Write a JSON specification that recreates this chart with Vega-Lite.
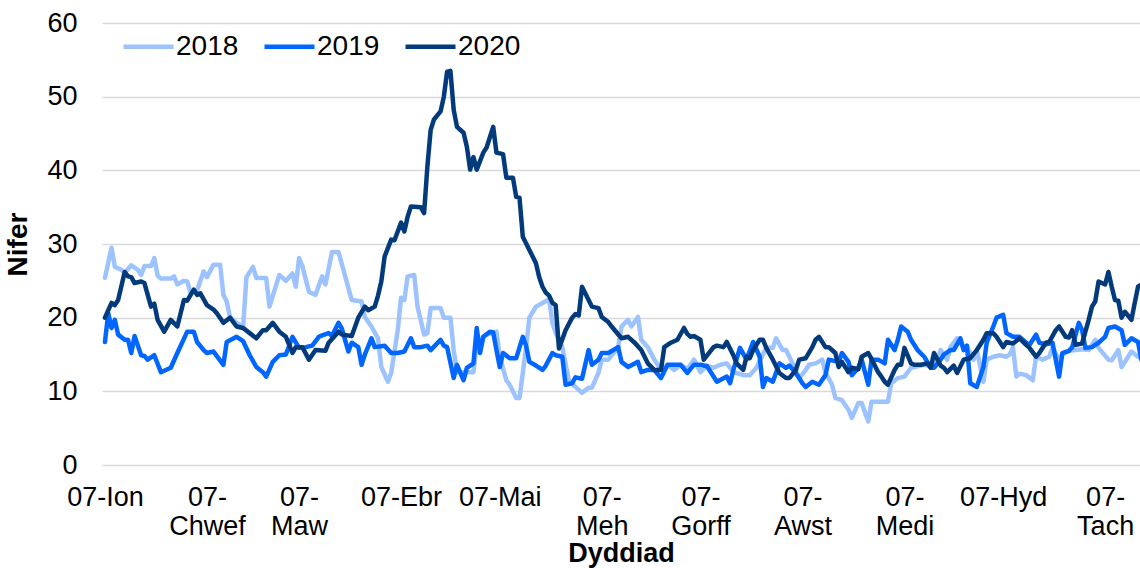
{
"$schema": "https://vega.github.io/schema/vega-lite/v6.json",
"width": 1038, "height": 442,
"autosize": {"type": "none"},
"padding": {"left": 102, "top": 23, "right": 0, "bottom": 103},
"background": "white",
"config": {"font": "Liberation Sans", "view": {"stroke": null}},
"data": {"values": [
{"year":"2018","day":7,"nifer":25.4},{"year":"2018","day":9,"nifer":29.5},{"year":"2018","day":10,"nifer":26.9},{"year":"2018","day":12,"nifer":26.5},{"year":"2018","day":13,"nifer":26.1},{"year":"2018","day":15,"nifer":27.1},{"year":"2018","day":17,"nifer":26.5},{"year":"2018","day":18,"nifer":25.8},{"year":"2018","day":19,"nifer":27},{"year":"2018","day":21,"nifer":27},{"year":"2018","day":22,"nifer":28.1},{"year":"2018","day":23,"nifer":25.7},{"year":"2018","day":24,"nifer":25.3},{"year":"2018","day":27,"nifer":25.3},{"year":"2018","day":28,"nifer":25.6},{"year":"2018","day":29,"nifer":24.5},{"year":"2018","day":31,"nifer":25},{"year":"2018","day":32,"nifer":24.9},{"year":"2018","day":33,"nifer":23.4},{"year":"2018","day":35,"nifer":23.7},{"year":"2018","day":37,"nifer":26.3},{"year":"2018","day":38,"nifer":25.5},{"year":"2018","day":40,"nifer":27.2},{"year":"2018","day":42,"nifer":27.2},{"year":"2018","day":43,"nifer":23.1},{"year":"2018","day":44,"nifer":22.2},{"year":"2018","day":45,"nifer":20.1},{"year":"2018","day":47,"nifer":19.3},{"year":"2018","day":49,"nifer":18.8},{"year":"2018","day":50,"nifer":25.5},{"year":"2018","day":52,"nifer":26.9},{"year":"2018","day":53,"nifer":25.4},{"year":"2018","day":56,"nifer":25.4},{"year":"2018","day":57,"nifer":21.5},{"year":"2018","day":60,"nifer":25.8},{"year":"2018","day":62,"nifer":25},{"year":"2018","day":64,"nifer":26},{"year":"2018","day":65,"nifer":24.2},{"year":"2018","day":66,"nifer":28.1},{"year":"2018","day":67,"nifer":27},{"year":"2018","day":69,"nifer":23.5},{"year":"2018","day":71,"nifer":23.1},{"year":"2018","day":73,"nifer":25.6},{"year":"2018","day":74,"nifer":24.5},{"year":"2018","day":76,"nifer":28.9},{"year":"2018","day":78,"nifer":28.9},{"year":"2018","day":81,"nifer":24},{"year":"2018","day":82,"nifer":22.4},{"year":"2018","day":85,"nifer":22.2},{"year":"2018","day":86,"nifer":20.1},{"year":"2018","day":88,"nifer":18.8},{"year":"2018","day":90,"nifer":17.2},{"year":"2018","day":91,"nifer":13.3},{"year":"2018","day":93,"nifer":11.3},{"year":"2018","day":94,"nifer":12.5},{"year":"2018","day":96,"nifer":18.3},{"year":"2018","day":97,"nifer":22.7},{"year":"2018","day":98,"nifer":22.4},{"year":"2018","day":99,"nifer":25.6},{"year":"2018","day":101,"nifer":25.8},{"year":"2018","day":102,"nifer":21.5},{"year":"2018","day":104,"nifer":17.7},{"year":"2018","day":105,"nifer":17.9},{"year":"2018","day":106,"nifer":21.3},{"year":"2018","day":109,"nifer":21.3},{"year":"2018","day":110,"nifer":20},{"year":"2018","day":112,"nifer":20},{"year":"2018","day":113,"nifer":15.6},{"year":"2018","day":114,"nifer":12.6},{"year":"2018","day":117,"nifer":12.6},{"year":"2018","day":119,"nifer":12.6},{"year":"2018","day":120,"nifer":16.6},{"year":"2018","day":123,"nifer":17.7},{"year":"2018","day":126,"nifer":18.1},{"year":"2018","day":127,"nifer":14.7},{"year":"2018","day":129,"nifer":11.5},{"year":"2018","day":130,"nifer":10.9},{"year":"2018","day":132,"nifer":9.1},{"year":"2018","day":133,"nifer":9.1},{"year":"2018","day":134,"nifer":12.5},{"year":"2018","day":135,"nifer":16},{"year":"2018","day":136,"nifer":20},{"year":"2018","day":138,"nifer":21.5},{"year":"2018","day":140,"nifer":22},{"year":"2018","day":142,"nifer":22.5},{"year":"2018","day":143,"nifer":19.3},{"year":"2018","day":144,"nifer":17.9},{"year":"2018","day":146,"nifer":16},{"year":"2018","day":148,"nifer":11.5},{"year":"2018","day":150,"nifer":10.6},{"year":"2018","day":152,"nifer":9.8},{"year":"2018","day":154,"nifer":10.5},{"year":"2018","day":155,"nifer":10.5},{"year":"2018","day":157,"nifer":12.5},{"year":"2018","day":158,"nifer":14.3},{"year":"2018","day":160,"nifer":14.3},{"year":"2018","day":163,"nifer":16},{"year":"2018","day":164,"nifer":18.8},{"year":"2018","day":166,"nifer":19.7},{"year":"2018","day":167,"nifer":18.8},{"year":"2018","day":169,"nifer":20.1},{"year":"2018","day":170,"nifer":17},{"year":"2018","day":172,"nifer":16},{"year":"2018","day":174,"nifer":14.3},{"year":"2018","day":176,"nifer":12.9},{"year":"2018","day":178,"nifer":13.6},{"year":"2018","day":180,"nifer":12.9},{"year":"2018","day":182,"nifer":13.6},{"year":"2018","day":184,"nifer":13},{"year":"2018","day":186,"nifer":14.3},{"year":"2018","day":188,"nifer":12.6},{"year":"2018","day":190,"nifer":13.5},{"year":"2018","day":192,"nifer":13.2},{"year":"2018","day":194,"nifer":13.6},{"year":"2018","day":196,"nifer":13.8},{"year":"2018","day":198,"nifer":12.6},{"year":"2018","day":201,"nifer":12.2},{"year":"2018","day":203,"nifer":12.2},{"year":"2018","day":205,"nifer":13.2},{"year":"2018","day":208,"nifer":15.9},{"year":"2018","day":210,"nifer":15.9},{"year":"2018","day":211,"nifer":17.2},{"year":"2018","day":213,"nifer":15.6},{"year":"2018","day":214,"nifer":15.6},{"year":"2018","day":216,"nifer":13.8},{"year":"2018","day":218,"nifer":11.8},{"year":"2018","day":220,"nifer":12.9},{"year":"2018","day":221,"nifer":13.6},{"year":"2018","day":223,"nifer":13.8},{"year":"2018","day":225,"nifer":14.3},{"year":"2018","day":226,"nifer":12.6},{"year":"2018","day":228,"nifer":10.9},{"year":"2018","day":229,"nifer":9.1},{"year":"2018","day":231,"nifer":8.8},{"year":"2018","day":233,"nifer":7.5},{"year":"2018","day":234,"nifer":6.4},{"year":"2018","day":236,"nifer":8.4},{"year":"2018","day":237,"nifer":8.4},{"year":"2018","day":239,"nifer":5.9},{"year":"2018","day":240,"nifer":8.6},{"year":"2018","day":243,"nifer":8.6},{"year":"2018","day":245,"nifer":8.6},{"year":"2018","day":246,"nifer":11.1},{"year":"2018","day":248,"nifer":11.8},{"year":"2018","day":250,"nifer":12},{"year":"2018","day":252,"nifer":13.2},{"year":"2018","day":254,"nifer":13.4},{"year":"2018","day":256,"nifer":13.6},{"year":"2018","day":258,"nifer":13.4},{"year":"2018","day":260,"nifer":14.3},{"year":"2018","day":261,"nifer":15.6},{"year":"2018","day":263,"nifer":14.3},{"year":"2018","day":264,"nifer":16},{"year":"2018","day":266,"nifer":17.2},{"year":"2018","day":268,"nifer":16},{"year":"2018","day":269,"nifer":16},{"year":"2018","day":271,"nifer":14.3},{"year":"2018","day":272,"nifer":15.6},{"year":"2018","day":274,"nifer":11.3},{"year":"2018","day":275,"nifer":14.3},{"year":"2018","day":277,"nifer":14.7},{"year":"2018","day":279,"nifer":14.9},{"year":"2018","day":281,"nifer":14.7},{"year":"2018","day":282,"nifer":15},{"year":"2018","day":283,"nifer":16},{"year":"2018","day":284,"nifer":12},{"year":"2018","day":285,"nifer":12.4},{"year":"2018","day":287,"nifer":12.2},{"year":"2018","day":289,"nifer":11.5},{"year":"2018","day":290,"nifer":14.7},{"year":"2018","day":292,"nifer":14.3},{"year":"2018","day":294,"nifer":14.7},{"year":"2018","day":295,"nifer":15.9},{"year":"2018","day":297,"nifer":14.3},{"year":"2018","day":298,"nifer":15},{"year":"2018","day":300,"nifer":15.5},{"year":"2018","day":302,"nifer":15.6},{"year":"2018","day":304,"nifer":15.7},{"year":"2018","day":306,"nifer":15.6},{"year":"2018","day":308,"nifer":17},{"year":"2018","day":309,"nifer":15.9},{"year":"2018","day":312,"nifer":14.3},{"year":"2018","day":313,"nifer":14.2},{"year":"2018","day":315,"nifer":15.6},{"year":"2018","day":316,"nifer":13.3},{"year":"2018","day":319,"nifer":15.4},{"year":"2018","day":321,"nifer":14.7},{"year":"2018","day":322,"nifer":14.5},
{"year":"2019","day":7,"nifer":16.7},{"year":"2019","day":8,"nifer":20.6},{"year":"2019","day":9,"nifer":18.6},{"year":"2019","day":10,"nifer":19.7},{"year":"2019","day":11,"nifer":17.7},{"year":"2019","day":13,"nifer":17},{"year":"2019","day":14,"nifer":17},{"year":"2019","day":15,"nifer":15.2},{"year":"2019","day":16,"nifer":17.5},{"year":"2019","day":18,"nifer":14.9},{"year":"2019","day":19,"nifer":14.8},{"year":"2019","day":20,"nifer":14.3},{"year":"2019","day":22,"nifer":14.9},{"year":"2019","day":24,"nifer":12.6},{"year":"2019","day":27,"nifer":13.2},{"year":"2019","day":29,"nifer":15.2},{"year":"2019","day":32,"nifer":18.1},{"year":"2019","day":34,"nifer":18.1},{"year":"2019","day":35,"nifer":16.7},{"year":"2019","day":37,"nifer":15.6},{"year":"2019","day":38,"nifer":15.2},{"year":"2019","day":40,"nifer":15.4},{"year":"2019","day":43,"nifer":13.6},{"year":"2019","day":44,"nifer":16.7},{"year":"2019","day":47,"nifer":17.4},{"year":"2019","day":49,"nifer":16.8},{"year":"2019","day":51,"nifer":14.9},{"year":"2019","day":53,"nifer":13.3},{"year":"2019","day":55,"nifer":12.6},{"year":"2019","day":56,"nifer":12},{"year":"2019","day":58,"nifer":14},{"year":"2019","day":60,"nifer":14.9},{"year":"2019","day":62,"nifer":15},{"year":"2019","day":64,"nifer":17.4},{"year":"2019","day":66,"nifer":15.9},{"year":"2019","day":68,"nifer":16},{"year":"2019","day":70,"nifer":16.2},{"year":"2019","day":72,"nifer":17.4},{"year":"2019","day":73,"nifer":17.6},{"year":"2019","day":75,"nifer":17.9},{"year":"2019","day":76,"nifer":17.5},{"year":"2019","day":78,"nifer":19.3},{"year":"2019","day":79,"nifer":18.5},{"year":"2019","day":81,"nifer":15.4},{"year":"2019","day":82,"nifer":16.6},{"year":"2019","day":84,"nifer":16},{"year":"2019","day":85,"nifer":13.6},{"year":"2019","day":86,"nifer":15},{"year":"2019","day":88,"nifer":17.2},{"year":"2019","day":89,"nifer":16},{"year":"2019","day":92,"nifer":16.2},{"year":"2019","day":94,"nifer":15.2},{"year":"2019","day":96,"nifer":15.2},{"year":"2019","day":98,"nifer":15.4},{"year":"2019","day":100,"nifer":17.2},{"year":"2019","day":101,"nifer":16},{"year":"2019","day":103,"nifer":16},{"year":"2019","day":105,"nifer":16.2},{"year":"2019","day":106,"nifer":15.6},{"year":"2019","day":109,"nifer":17},{"year":"2019","day":110,"nifer":16.2},{"year":"2019","day":111,"nifer":16},{"year":"2019","day":113,"nifer":11.8},{"year":"2019","day":114,"nifer":13.6},{"year":"2019","day":116,"nifer":11.5},{"year":"2019","day":117,"nifer":13.2},{"year":"2019","day":119,"nifer":13.8},{"year":"2019","day":120,"nifer":18.6},{"year":"2019","day":121,"nifer":15.2},{"year":"2019","day":122,"nifer":17.4},{"year":"2019","day":124,"nifer":18.1},{"year":"2019","day":125,"nifer":18},{"year":"2019","day":126,"nifer":15.6},{"year":"2019","day":127,"nifer":13.3},{"year":"2019","day":128,"nifer":15.2},{"year":"2019","day":130,"nifer":14.5},{"year":"2019","day":132,"nifer":14.5},{"year":"2019","day":134,"nifer":17.4},{"year":"2019","day":135,"nifer":16.2},{"year":"2019","day":136,"nifer":14},{"year":"2019","day":138,"nifer":13.5},{"year":"2019","day":140,"nifer":12.9},{"year":"2019","day":141,"nifer":13.5},{"year":"2019","day":143,"nifer":15.2},{"year":"2019","day":144,"nifer":14.9},{"year":"2019","day":146,"nifer":14.7},{"year":"2019","day":147,"nifer":10.9},{"year":"2019","day":149,"nifer":11.1},{"year":"2019","day":150,"nifer":11.9},{"year":"2019","day":152,"nifer":11.7},{"year":"2019","day":154,"nifer":15.6},{"year":"2019","day":155,"nifer":13.6},{"year":"2019","day":157,"nifer":14.3},{"year":"2019","day":158,"nifer":15.2},{"year":"2019","day":160,"nifer":15.2},{"year":"2019","day":163,"nifer":16},{"year":"2019","day":164,"nifer":14},{"year":"2019","day":166,"nifer":13.3},{"year":"2019","day":169,"nifer":14},{"year":"2019","day":170,"nifer":12.6},{"year":"2019","day":172,"nifer":12.9},{"year":"2019","day":174,"nifer":12.9},{"year":"2019","day":176,"nifer":11.8},{"year":"2019","day":178,"nifer":13.6},{"year":"2019","day":180,"nifer":13.6},{"year":"2019","day":182,"nifer":13.6},{"year":"2019","day":184,"nifer":12.5},{"year":"2019","day":186,"nifer":13.6},{"year":"2019","day":188,"nifer":13.6},{"year":"2019","day":190,"nifer":13.4},{"year":"2019","day":193,"nifer":11.3},{"year":"2019","day":196,"nifer":12},{"year":"2019","day":197,"nifer":11.1},{"year":"2019","day":198,"nifer":12.9},{"year":"2019","day":200,"nifer":15.9},{"year":"2019","day":202,"nifer":14.3},{"year":"2019","day":204,"nifer":16.7},{"year":"2019","day":206,"nifer":14.7},{"year":"2019","day":207,"nifer":10.6},{"year":"2019","day":208,"nifer":11.8},{"year":"2019","day":210,"nifer":11.3},{"year":"2019","day":212,"nifer":13.8},{"year":"2019","day":214,"nifer":13.2},{"year":"2019","day":215,"nifer":13.5},{"year":"2019","day":217,"nifer":12.5},{"year":"2019","day":219,"nifer":11.1},{"year":"2019","day":220,"nifer":10.6},{"year":"2019","day":222,"nifer":11.3},{"year":"2019","day":224,"nifer":10.9},{"year":"2019","day":226,"nifer":12.2},{"year":"2019","day":227,"nifer":14.3},{"year":"2019","day":230,"nifer":14},{"year":"2019","day":231,"nifer":15.2},{"year":"2019","day":233,"nifer":14},{"year":"2019","day":234,"nifer":12.2},{"year":"2019","day":236,"nifer":13.2},{"year":"2019","day":237,"nifer":14.3},{"year":"2019","day":239,"nifer":10.9},{"year":"2019","day":240,"nifer":14.3},{"year":"2019","day":242,"nifer":14.3},{"year":"2019","day":244,"nifer":13.8},{"year":"2019","day":245,"nifer":17},{"year":"2019","day":247,"nifer":15.6},{"year":"2019","day":248,"nifer":17},{"year":"2019","day":249,"nifer":18.8},{"year":"2019","day":251,"nifer":18.1},{"year":"2019","day":252,"nifer":17},{"year":"2019","day":254,"nifer":15.6},{"year":"2019","day":256,"nifer":14.7},{"year":"2019","day":258,"nifer":13.2},{"year":"2019","day":259,"nifer":13.2},{"year":"2019","day":261,"nifer":14.3},{"year":"2019","day":262,"nifer":15},{"year":"2019","day":264,"nifer":15.6},{"year":"2019","day":265,"nifer":15.6},{"year":"2019","day":267,"nifer":17.2},{"year":"2019","day":268,"nifer":15.6},{"year":"2019","day":269,"nifer":16.2},{"year":"2019","day":270,"nifer":11.1},{"year":"2019","day":272,"nifer":10.6},{"year":"2019","day":274,"nifer":13.3},{"year":"2019","day":275,"nifer":16.6},{"year":"2019","day":277,"nifer":18.8},{"year":"2019","day":278,"nifer":20},{"year":"2019","day":280,"nifer":20.4},{"year":"2019","day":281,"nifer":17.9},{"year":"2019","day":283,"nifer":17.4},{"year":"2019","day":285,"nifer":17.4},{"year":"2019","day":287,"nifer":16.6},{"year":"2019","day":288,"nifer":16.3},{"year":"2019","day":290,"nifer":17.7},{"year":"2019","day":291,"nifer":16.6},{"year":"2019","day":293,"nifer":16.4},{"year":"2019","day":295,"nifer":16.6},{"year":"2019","day":297,"nifer":12},{"year":"2019","day":298,"nifer":15.2},{"year":"2019","day":300,"nifer":15.5},{"year":"2019","day":301,"nifer":16},{"year":"2019","day":303,"nifer":19.3},{"year":"2019","day":304,"nifer":18.3},{"year":"2019","day":305,"nifer":15.9},{"year":"2019","day":307,"nifer":16},{"year":"2019","day":309,"nifer":16.6},{"year":"2019","day":311,"nifer":17.4},{"year":"2019","day":312,"nifer":18.6},{"year":"2019","day":314,"nifer":18.8},{"year":"2019","day":316,"nifer":18.3},{"year":"2019","day":317,"nifer":16.3},{"year":"2019","day":319,"nifer":17.2},{"year":"2019","day":321,"nifer":16.7},{"year":"2019","day":322,"nifer":14.3},{"year":"2019","day":323,"nifer":13.5},
{"year":"2020","day":7,"nifer":20},{"year":"2020","day":9,"nifer":22},{"year":"2020","day":10,"nifer":21.7},{"year":"2020","day":11,"nifer":22.4},{"year":"2020","day":13,"nifer":26.2},{"year":"2020","day":14,"nifer":25.6},{"year":"2020","day":15,"nifer":25.5},{"year":"2020","day":16,"nifer":24.7},{"year":"2020","day":18,"nifer":24.9},{"year":"2020","day":19,"nifer":24.7},{"year":"2020","day":20,"nifer":23.1},{"year":"2020","day":21,"nifer":21.5},{"year":"2020","day":22,"nifer":21.9},{"year":"2020","day":23,"nifer":19.7},{"year":"2020","day":25,"nifer":18.1},{"year":"2020","day":27,"nifer":19.7},{"year":"2020","day":29,"nifer":18.8},{"year":"2020","day":30,"nifer":20.6},{"year":"2020","day":31,"nifer":22.4},{"year":"2020","day":32,"nifer":22.3},{"year":"2020","day":34,"nifer":23.8},{"year":"2020","day":35,"nifer":23.1},{"year":"2020","day":36,"nifer":23.3},{"year":"2020","day":38,"nifer":21.7},{"year":"2020","day":40,"nifer":21.1},{"year":"2020","day":41,"nifer":20.6},{"year":"2020","day":43,"nifer":19.3},{"year":"2020","day":45,"nifer":20},{"year":"2020","day":47,"nifer":18.8},{"year":"2020","day":49,"nifer":18.6},{"year":"2020","day":51,"nifer":17.9},{"year":"2020","day":53,"nifer":17.2},{"year":"2020","day":55,"nifer":18.3},{"year":"2020","day":56,"nifer":18.3},{"year":"2020","day":58,"nifer":19.3},{"year":"2020","day":60,"nifer":18.1},{"year":"2020","day":62,"nifer":17.4},{"year":"2020","day":64,"nifer":15.2},{"year":"2020","day":65,"nifer":16},{"year":"2020","day":67,"nifer":16},{"year":"2020","day":69,"nifer":14.3},{"year":"2020","day":71,"nifer":15.6},{"year":"2020","day":74,"nifer":15.5},{"year":"2020","day":75,"nifer":16.6},{"year":"2020","day":78,"nifer":18.1},{"year":"2020","day":79,"nifer":17.7},{"year":"2020","day":82,"nifer":17.5},{"year":"2020","day":84,"nifer":20},{"year":"2020","day":86,"nifer":21.5},{"year":"2020","day":87,"nifer":21},{"year":"2020","day":89,"nifer":21.5},{"year":"2020","day":90,"nifer":23},{"year":"2020","day":91,"nifer":24.9},{"year":"2020","day":92,"nifer":28.3},{"year":"2020","day":94,"nifer":30.6},{"year":"2020","day":95,"nifer":30.5},{"year":"2020","day":97,"nifer":32.9},{"year":"2020","day":98,"nifer":31.7},{"year":"2020","day":99,"nifer":33.7},{"year":"2020","day":100,"nifer":35.1},{"year":"2020","day":103,"nifer":35},{"year":"2020","day":104,"nifer":34.2},{"year":"2020","day":105,"nifer":40.5},{"year":"2020","day":106,"nifer":45.5},{"year":"2020","day":107,"nifer":46.9},{"year":"2020","day":109,"nifer":48},{"year":"2020","day":110,"nifer":50},{"year":"2020","day":111,"nifer":53.4},{"year":"2020","day":112,"nifer":53.5},{"year":"2020","day":113,"nifer":48.2},{"year":"2020","day":114,"nifer":45.9},{"year":"2020","day":116,"nifer":45.1},{"year":"2020","day":117,"nifer":43.2},{"year":"2020","day":118,"nifer":40.1},{"year":"2020","day":119,"nifer":41.8},{"year":"2020","day":120,"nifer":40.1},{"year":"2020","day":122,"nifer":42.4},{"year":"2020","day":123,"nifer":43.1},{"year":"2020","day":125,"nifer":45.9},{"year":"2020","day":126,"nifer":42.4},{"year":"2020","day":128,"nifer":42.2},{"year":"2020","day":129,"nifer":39},{"year":"2020","day":131,"nifer":39},{"year":"2020","day":132,"nifer":36.4},{"year":"2020","day":133,"nifer":36.3},{"year":"2020","day":134,"nifer":31},{"year":"2020","day":136,"nifer":29.2},{"year":"2020","day":138,"nifer":27.4},{"year":"2020","day":139,"nifer":25.5},{"year":"2020","day":140,"nifer":24.2},{"year":"2020","day":141,"nifer":23.4},{"year":"2020","day":142,"nifer":23},{"year":"2020","day":143,"nifer":22},{"year":"2020","day":144,"nifer":21.7},{"year":"2020","day":145,"nifer":15.8},{"year":"2020","day":147,"nifer":18.3},{"year":"2020","day":149,"nifer":20},{"year":"2020","day":150,"nifer":20.5},{"year":"2020","day":151,"nifer":20.3},{"year":"2020","day":152,"nifer":24.2},{"year":"2020","day":154,"nifer":22.4},{"year":"2020","day":155,"nifer":21.5},{"year":"2020","day":157,"nifer":21.3},{"year":"2020","day":158,"nifer":20.1},{"year":"2020","day":160,"nifer":19.4},{"year":"2020","day":161,"nifer":18.8},{"year":"2020","day":164,"nifer":17.2},{"year":"2020","day":166,"nifer":17.4},{"year":"2020","day":168,"nifer":16.6},{"year":"2020","day":170,"nifer":15.6},{"year":"2020","day":172,"nifer":13.8},{"year":"2020","day":174,"nifer":12.9},{"year":"2020","day":176,"nifer":12.9},{"year":"2020","day":177,"nifer":16},{"year":"2020","day":179,"nifer":16.6},{"year":"2020","day":181,"nifer":17},{"year":"2020","day":183,"nifer":18.6},{"year":"2020","day":184,"nifer":17.8},{"year":"2020","day":185,"nifer":17.4},{"year":"2020","day":186,"nifer":17.5},{"year":"2020","day":188,"nifer":17},{"year":"2020","day":189,"nifer":14.3},{"year":"2020","day":192,"nifer":16},{"year":"2020","day":193,"nifer":16.2},{"year":"2020","day":195,"nifer":16},{"year":"2020","day":196,"nifer":16.7},{"year":"2020","day":198,"nifer":14.9},{"year":"2020","day":199,"nifer":13.8},{"year":"2020","day":201,"nifer":12.9},{"year":"2020","day":202,"nifer":14.7},{"year":"2020","day":203,"nifer":14.5},{"year":"2020","day":204,"nifer":15.6},{"year":"2020","day":206,"nifer":17},{"year":"2020","day":207,"nifer":17},{"year":"2020","day":208,"nifer":15.9},{"year":"2020","day":210,"nifer":14.3},{"year":"2020","day":212,"nifer":12.5},{"year":"2020","day":214,"nifer":11.8},{"year":"2020","day":215,"nifer":11.8},{"year":"2020","day":217,"nifer":12.9},{"year":"2020","day":218,"nifer":14.3},{"year":"2020","day":220,"nifer":14.5},{"year":"2020","day":222,"nifer":16},{"year":"2020","day":223,"nifer":17},{"year":"2020","day":224,"nifer":17.4},{"year":"2020","day":226,"nifer":16},{"year":"2020","day":227,"nifer":16},{"year":"2020","day":229,"nifer":15.2},{"year":"2020","day":230,"nifer":13.3},{"year":"2020","day":231,"nifer":14},{"year":"2020","day":233,"nifer":12.6},{"year":"2020","day":234,"nifer":13.2},{"year":"2020","day":236,"nifer":13},{"year":"2020","day":237,"nifer":14.7},{"year":"2020","day":239,"nifer":15.2},{"year":"2020","day":240,"nifer":14.4},{"year":"2020","day":242,"nifer":12.6},{"year":"2020","day":243,"nifer":12},{"year":"2020","day":244,"nifer":11.3},{"year":"2020","day":245,"nifer":10.9},{"year":"2020","day":247,"nifer":12.9},{"year":"2020","day":248,"nifer":13.6},{"year":"2020","day":249,"nifer":13.6},{"year":"2020","day":250,"nifer":15.9},{"year":"2020","day":252,"nifer":13.8},{"year":"2020","day":253,"nifer":13.6},{"year":"2020","day":255,"nifer":13.6},{"year":"2020","day":257,"nifer":13.8},{"year":"2020","day":258,"nifer":13.2},{"year":"2020","day":259,"nifer":15.2},{"year":"2020","day":261,"nifer":13.5},{"year":"2020","day":262,"nifer":13.2},{"year":"2020","day":263,"nifer":12.6},{"year":"2020","day":265,"nifer":13.5},{"year":"2020","day":266,"nifer":12.5},{"year":"2020","day":268,"nifer":14.3},{"year":"2020","day":270,"nifer":14.5},{"year":"2020","day":272,"nifer":15.6},{"year":"2020","day":274,"nifer":17},{"year":"2020","day":275,"nifer":17.9},{"year":"2020","day":277,"nifer":17.9},{"year":"2020","day":278,"nifer":17.4},{"year":"2020","day":280,"nifer":16},{"year":"2020","day":281,"nifer":16.7},{"year":"2020","day":283,"nifer":16.5},{"year":"2020","day":285,"nifer":17.2},{"year":"2020","day":287,"nifer":16.3},{"year":"2020","day":288,"nifer":15.9},{"year":"2020","day":290,"nifer":14.7},{"year":"2020","day":291,"nifer":15.2},{"year":"2020","day":293,"nifer":16.6},{"year":"2020","day":294,"nifer":16.7},{"year":"2020","day":296,"nifer":18.3},{"year":"2020","day":297,"nifer":18.8},{"year":"2020","day":299,"nifer":17.4},{"year":"2020","day":300,"nifer":17.3},{"year":"2020","day":301,"nifer":18.3},{"year":"2020","day":302,"nifer":16.3},{"year":"2020","day":304,"nifer":16.5},{"year":"2020","day":306,"nifer":19.7},{"year":"2020","day":307,"nifer":21.5},{"year":"2020","day":308,"nifer":22.2},{"year":"2020","day":309,"nifer":24.9},{"year":"2020","day":311,"nifer":24.5},{"year":"2020","day":312,"nifer":26.2},{"year":"2020","day":313,"nifer":24.2},{"year":"2020","day":314,"nifer":22.4},{"year":"2020","day":315,"nifer":22.3},{"year":"2020","day":316,"nifer":20},{"year":"2020","day":317,"nifer":20.8},{"year":"2020","day":319,"nifer":19.7},{"year":"2020","day":320,"nifer":22},{"year":"2020","day":321,"nifer":24.2},{"year":"2020","day":322,"nifer":24.5}
]},
"mark": {"type": "line", "strokeWidth": 4.5, "strokeJoin": "round", "strokeCap": "round", "clip": true},
"encoding": {
"x": {"field": "day", "type": "quantitative",
 "scale": {"domain": [6.1, 321.6], "nice": false, "zero": false},
 "axis": {"values": [7,38,66,97,127,158,188,219,250,280,311],
  "labelExpr": "datum.value==7?'07-Ion':datum.value==38?['07-','Chwef']:datum.value==66?['07-','Maw']:datum.value==97?'07-Ebr':datum.value==127?'07-Mai':datum.value==158?['07-','Meh']:datum.value==188?['07-','Gorff']:datum.value==219?['07-','Awst']:datum.value==250?['07-','Medi']:datum.value==280?'07-Hyd':['07-','Tach']",
  "title": "Dyddiad", "grid": false, "domain": false, "ticks": false,
  "labelFont": "Liberation Sans", "labelFontSize": 27, "labelLineHeight": 29, "labelPadding": 19, "labelColor": "#000000",
  "labelAngle": 0, "labelOverlap": false, "labelFlush": false, "labelBound": false,
  "titleFont": "Liberation Sans", "titleFontSize": 27, "titleFontWeight": "bold", "titleColor": "#000000", "titlePadding": 1}},
"y": {"field": "nifer", "type": "quantitative",
 "scale": {"domain": [0, 60], "nice": false},
 "axis": {"values": [0,10,20,30,40,50,60], "title": "Nifer", "grid": true, "gridColor": "#d9d9d9", "gridWidth": 1.5,
  "domain": false, "ticks": false, "labelPadding": 25, "labelFont": "Liberation Sans", "labelFontSize": 27, "labelColor": "#000000",
  "titleFont": "Liberation Sans", "titleFontSize": 28, "titleFontWeight": "bold", "titleColor": "#000000", "titlePadding": 14}},
"color": {"field": "year", "type": "nominal",
 "scale": {"domain": ["2018","2019","2020"], "range": ["#9dc3ff","#0066ff","#033a7c"]},
 "legend": {"orient": "none", "legendX": 19, "legendY": -4, "direction": "horizontal", "title": null,
  "symbolType": "stroke", "symbolSize": 2500, "symbolStrokeWidth": 4.5, "labelFont": "Liberation Sans", "labelFontSize": 28,
  "labelColor": "#000000", "labelOffset": 0, "columnPadding": 16}}
}
}
